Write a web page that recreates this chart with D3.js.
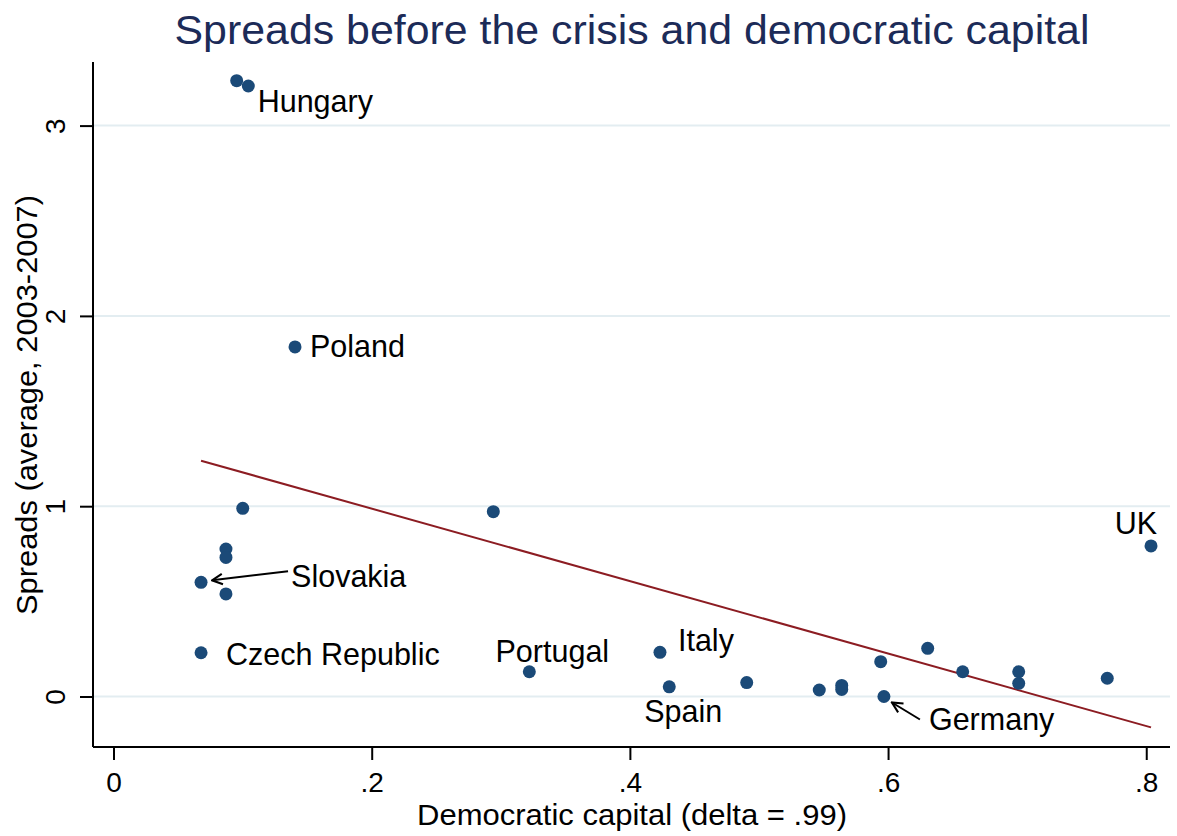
<!DOCTYPE html>
<html>
<head>
<meta charset="utf-8">
<script src="https://cdn.jsdelivr.net/npm/d3@7"></script>
<style>
  body { margin: 0; background: #fff; }
  text { font-family: "Liberation Sans", Arial, sans-serif; }
</style>
</head>
<body>
<div id="chart"></div>
<script>
// data
var countries = ["Hungary", "", "Poland", "", "", "", "", "Slovakia", "", "Czech Republic",
    "Portugal", "Italy", "Spain", "", "", "", "", "", "Germany", "", "", "", "", "", "UK"];
var capital = [0.0954, 0.1044, 0.1406, 0.1001, 0.2942, 0.0871, 0.0871, 0.0678, 0.0871, 0.0678,
    0.3221, 0.4233, 0.4305, 0.4905, 0.5467, 0.5641, 0.5641, 0.5943, 0.5968, 0.6307,
    0.6578, 0.7012, 0.7012, 0.7698, 0.8037];
var spreads = [3.236, 3.208, 1.837, 0.989, 0.971, 0.775, 0.731, 0.600, 0.539, 0.230,
    0.130, 0.232, 0.051, 0.073, 0.034, 0.058, 0.037, 0.183, 0.0, 0.253,
    0.130, 0.130, 0.069, 0.096, 0.791];
var fitIntercept = 1.368;
var fitSlope = -1.9038;
var xTicks = [0, 0.2, 0.4, 0.6, 0.8];
var yTicks = [0, 1, 2, 3];

var width = 1177, height = 836;
var margin = { top: 62, bottom: 89, left: 93, right: 7 };
var w = width - margin.left - margin.right;
var h = height - margin.top - margin.bottom;

var svg = d3.select("#chart").append("svg")
    .attr("width", width)
    .attr("height", height);

svg.append("text")
    .attr("x", 632)
    .attr("y", 44)
    .attr("text-anchor", "middle")
    .attr("textLength", 915)
    .attr("lengthAdjust", "spacingAndGlyphs")
    .style("font-size", "40px")
    .style("fill", "#1c2b58")
    .text("Spreads before the crisis and democratic capital");

var g = svg.append("g")
    .attr("transform", "translate(" + margin.left + "," + margin.top + ")");

var x = d3.scaleLinear().domain([-0.0159, 0.8184]).range([0, w]);
var y = d3.scaleLinear().domain([-0.2654, 3.3342]).range([h, 0]);

// grid
g.selectAll(".grid").data(yTicks).enter().append("line")
    .attr("class", "grid")
    .attr("x1", 0).attr("x2", w)
    .attr("y1", function (d) { return y(d); })
    .attr("y2", function (d) { return y(d); })
    .style("stroke", "#e3edf1")
    .style("stroke-width", 2);

// axes
var xAxis = d3.axisBottom(x).tickValues(xTicks).tickSize(13).tickPadding(12)
    .tickFormat(function (d) { return d === 0 ? "0" : d3.format(".1f")(d).replace(/^0/, ""); });
var yAxis = d3.axisLeft(y).tickValues(yTicks).tickSize(13).tickPadding(8)
    .tickFormat(d3.format("d"));

var gx = g.append("g").attr("transform", "translate(0," + h + ")").call(xAxis);
var gy = g.append("g").call(yAxis);

[gx, gy].forEach(function (a) {
    a.select(".domain").style("stroke", "#000").style("stroke-width", 2)
        .attr("d", a === gx ? "M0,0H" + w : "M0," + h + "V0");
    a.selectAll(".tick line").style("stroke", "#000").style("stroke-width", 2);
    a.selectAll(".tick text")
        .style("font-size", "28px").style("fill", "#000");
});
gy.selectAll(".tick text")
    .attr("text-anchor", "middle")
    .attr("dy", 0)
    .attr("x", 0).attr("y", 0)
    .attr("transform", "translate(-28,0) rotate(-90)");

svg.append("text")
    .attr("x", 632).attr("y", 825)
    .attr("text-anchor", "middle")
    .attr("textLength", 430)
    .attr("lengthAdjust", "spacingAndGlyphs")
    .style("font-size", "30px")
    .text("Democratic capital (delta = .99)");

svg.append("text")
    .attr("transform", "translate(37,405) rotate(-90)")
    .attr("text-anchor", "middle")
    .attr("textLength", 420)
    .attr("lengthAdjust", "spacingAndGlyphs")
    .style("font-size", "30px")
    .text("Spreads (average, 2003-2007)");

// fitted line
var xMin = d3.min(capital), xMax = d3.max(capital);
g.append("line")
    .attr("x1", x(xMin)).attr("y1", y(fitIntercept + fitSlope * xMin))
    .attr("x2", x(xMax)).attr("y2", y(fitIntercept + fitSlope * xMax))
    .style("stroke", "#8c1c22")
    .style("stroke-width", 2);

// points
var pts = capital.map(function (c, i) { return { name: countries[i], x: c, y: spreads[i] }; });
g.selectAll(".dot").data(pts).enter().append("circle")
    .attr("class", "dot")
    .attr("cx", function (d) { return x(d.x); })
    .attr("cy", function (d) { return y(d.y); })
    .attr("r", 6.5)
    .style("fill", "#1b4a78");

// label placement (offsets from the marker, anchor)
var place = {
    "Hungary": [21, 31, "start"],
    "Poland": [15, 10, "start"],
    "Czech Republic": [25, 12, "start"],
    "Portugal": [23, -10, "middle"],
    "Italy": [18, -1, "start"],
    "Spain": [14, 35, "middle"],
    "UK": [6, -12, "end"],
    "Slovakia": [90, 5, "start"],
    "Germany": [45, 34, "start"]
};
var arrows = { "Slovakia": [87, -11, 11, -2], "Germany": [36, 23, 8, 6] };

var lab = pts.filter(function (d) { return d.name !== ""; });
g.selectAll(".lab").data(lab).enter().append("text")
    .attr("class", "lab")
    .attr("x", function (d) { return x(d.x) + place[d.name][0]; })
    .attr("y", function (d) { return y(d.y) + place[d.name][1]; })
    .attr("text-anchor", function (d) { return place[d.name][2]; })
    .style("font-size", "30.5px")
    .text(function (d) { return d.name; });

svg.append("defs").append("marker")
    .attr("id", "arr")
    .attr("viewBox", "0 0 10 10")
    .attr("refX", 9).attr("refY", 5)
    .attr("markerUnits", "userSpaceOnUse")
    .attr("markerWidth", 13).attr("markerHeight", 13)
    .attr("orient", "auto")
    .append("path")
    .attr("d", "M1,1L9,5L1,9")
    .style("fill", "none").style("stroke", "#000").style("stroke-width", 1.6);

g.selectAll(".arrow").data(lab.filter(function (d) { return arrows[d.name]; })).enter().append("line")
    .attr("class", "arrow")
    .attr("x1", function (d) { return x(d.x) + arrows[d.name][0]; })
    .attr("y1", function (d) { return y(d.y) + arrows[d.name][1]; })
    .attr("x2", function (d) { return x(d.x) + arrows[d.name][2]; })
    .attr("y2", function (d) { return y(d.y) + arrows[d.name][3]; })
    .style("stroke", "#000")
    .style("stroke-width", 2)
    .attr("marker-end", "url(#arr)");
</script>
</body>
</html>
